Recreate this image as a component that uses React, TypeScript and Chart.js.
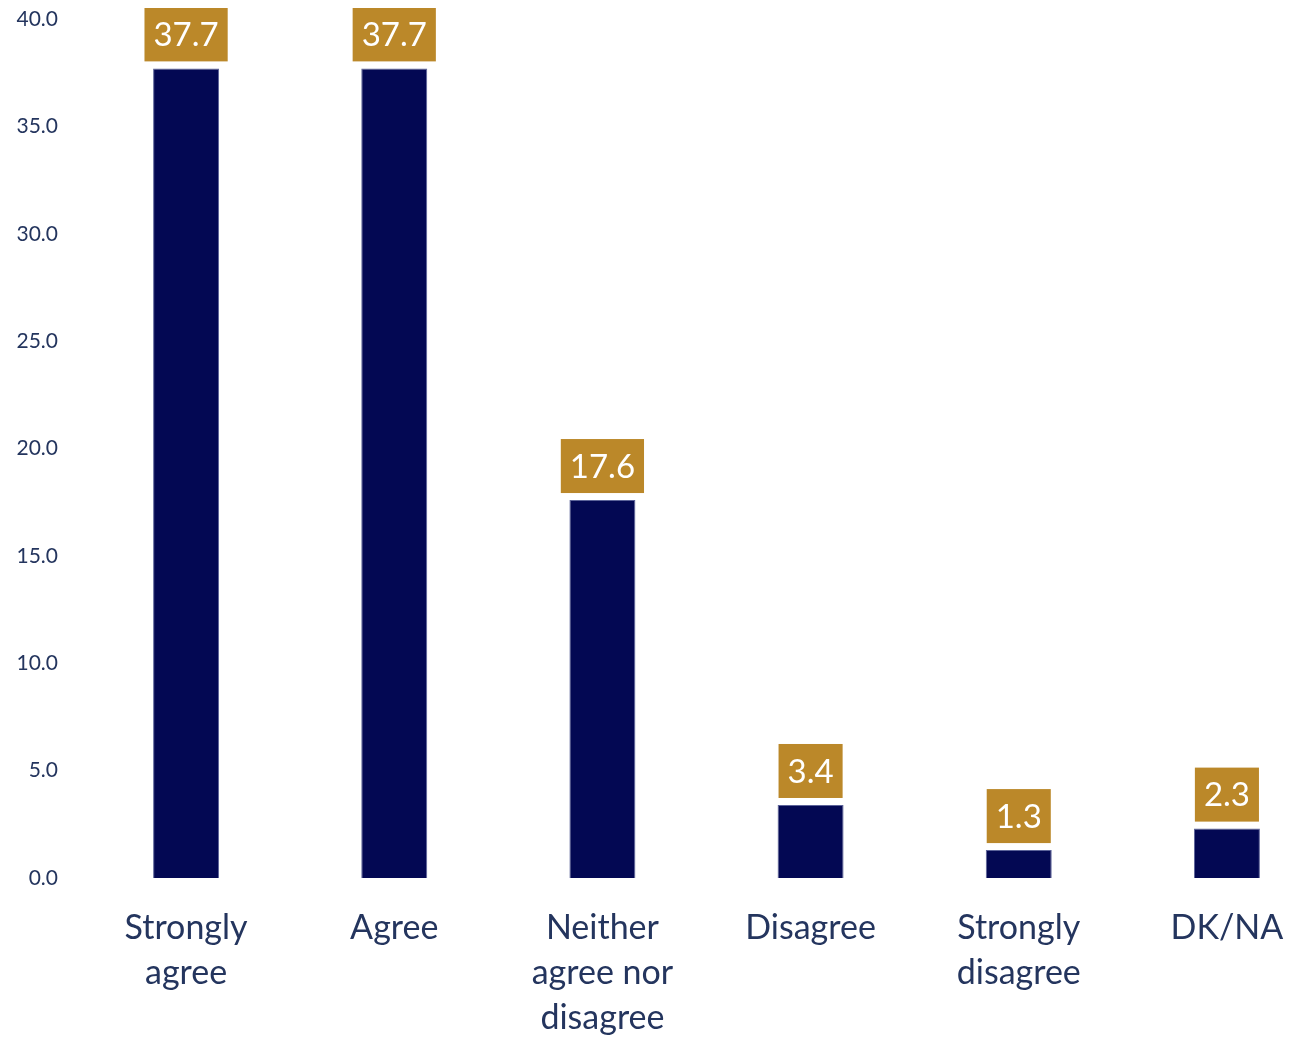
import React, { useEffect, useRef } from "react";
import { Chart, registerables } from "chart.js";

Chart.register(...registerables);

const categories: string[][] = [
  ["Strongly", "agree"],
  ["Agree"],
  ["Neither", "agree nor", "disagree"],
  ["Disagree"],
  ["Strongly", "disagree"],
  ["DK/NA"],
];
const values: number[] = [37.7, 37.7, 17.6, 3.4, 1.3, 2.3];
const yMin = 0;
const yMax = 40;
const yStep = 5;

const BAR = "#030853";
const GOLD = "#BB8829";
const TEXT = "#24355E";
const FONT = "Lato, 'Open Sans', sans-serif";

const labelPlugin = {
  id: "boxLabels",
  afterDatasetsDraw(chart: any) {
    const ctx = chart.ctx;
    const meta = chart.getDatasetMeta(0);
    ctx.save();
    ctx.font = `33px ${FONT}`;
    ctx.textAlign = "center";
    ctx.textBaseline = "middle";
    meta.data.forEach((bar: any, i: number) => {
      const txt = values[i].toFixed(1);
      const w = ctx.measureText(txt).width + 18;
      const h = 54;
      const bottom = bar.y - 7;
      ctx.fillStyle = GOLD;
      ctx.fillRect(bar.x - w / 2, bottom - h, w, h);
      ctx.fillStyle = "#FFFFFF";
      ctx.fillText(txt, bar.x, bottom - h / 2 + 1);
    });
    ctx.restore();
  },
};

export default function App() {
  const ref = useRef<HTMLCanvasElement>(null);
  useEffect(() => {
    if (!ref.current) return;
    const chart = new Chart(ref.current, {
      type: "bar",
      data: {
        labels: categories,
        datasets: [
          {
            data: values,
            backgroundColor: BAR,
            borderColor: "#5C6399",
            borderWidth: 1,
            barPercentage: 0.317,
            categoryPercentage: 1,
          },
        ],
      },
      options: {
        responsive: false,
        animation: false,
        devicePixelRatio: 1,
        layout: { padding: { top: 11, right: 17, left: 0, bottom: 0 } },
        plugins: { legend: { display: false }, tooltip: { enabled: false } },
        scales: {
          x: {
            grid: { display: false, drawTicks: false },
            border: { display: false },
            ticks: {
              color: TEXT,
              font: { family: FONT, size: 34, lineHeight: 1.32 },
              padding: 28,
              maxRotation: 0,
              autoSkip: false,
            },
            afterFit(scale: any) {
              scale.height = 159;
              scale.paddingLeft = 0;
              scale.paddingRight = 0;
            },
          },
          y: {
            min: yMin,
            max: yMax,
            grid: { display: false, drawTicks: false },
            border: { display: false },
            ticks: {
              stepSize: yStep,
              color: TEXT,
              font: { family: FONT, size: 21 },
              padding: 24,
              callback: (v: any) => Number(v).toFixed(1),
            },
            afterFit(scale: any) {
              scale.width = 74;
              scale.paddingTop = 0;
              scale.paddingBottom = 0;
            },
          },
        },
      },
      plugins: [labelPlugin],
    });
    return () => chart.destroy();
  }, []);
  return (
    <div style={{ width: 1290, height: 1029, overflow: "hidden" }}>
      <canvas ref={ref} width={1340} height={1029} style={{ display: "block" }} />
    </div>
  );
}
